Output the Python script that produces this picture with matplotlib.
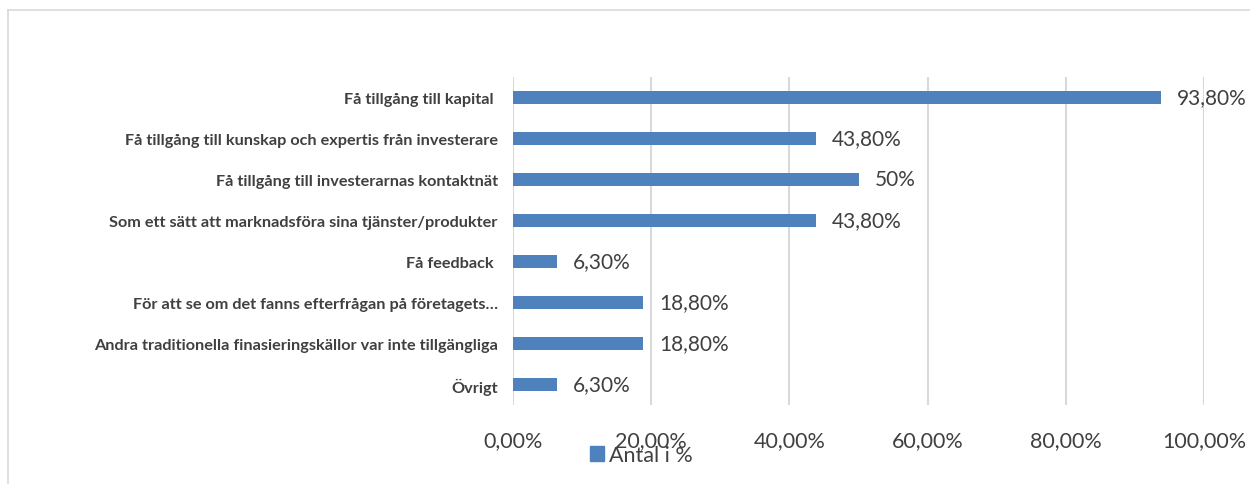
import matplotlib.pyplot as plt
from matplotlib.patches import Patch
from matplotlib.lines import Line2D

categories = [
    "Få tillgång till kapital ",
    "Få tillgång till kunskap och expertis från investerare",
    "Få tillgång till investerarnas kontaktnät",
    "Som ett sätt att marknadsföra sina tjänster/produkter",
    "Få feedback ",
    "För att se om det fanns efterfrågan på företagets…",
    "Andra traditionella finasieringskällor var inte tillgängliga",
    "Övrigt",
]
values = [93.8, 43.8, 50.0, 43.8, 6.3, 18.8, 18.8, 6.3]
value_labels = ["93,80%", "43,80%", "50%", "43,80%", "6,30%", "18,80%", "18,80%", "6,30%"]
ticks = [0, 20, 40, 60, 80, 100]
tick_labels = ["0,00%", "20,00%", "40,00%", "60,00%", "80,00%", "100,00%"]

bar_color = "#4f81bd"
text_color = "#404040"
grid_color = "#d9d9d9"

plt.rcParams['font.family'] = ['Lato', 'DejaVu Sans']

fig = plt.figure(figsize=(12.5, 4.85), dpi=100)
ax = fig.add_axes([513 / 1250, 1 - 406 / 485, 691 / 1250, 328 / 485])

y = list(range(len(categories)))
ax.barh(y, values, height=0.34, color=bar_color, zorder=3)

for yi, v, lab in zip(y, values, value_labels):
    ax.annotate(lab, (v, yi), xytext=(11.5, 0), textcoords="offset points",
                va="center", ha="left", fontsize=15, color=text_color)

ax.set_xlim(0, 100)
ax.set_ylim(len(categories) - 0.5, -0.5)
ax.set_xticks(ticks)
ax.set_xticklabels(tick_labels, fontsize=15.5, color=text_color)
ax.set_yticks(y)
ax.set_yticklabels(categories, fontsize=11.7, fontweight="bold", color=text_color)
ax.tick_params(axis="x", length=0, pad=18)
ax.tick_params(axis="y", length=0, pad=11)
ax.grid(axis="x", color=grid_color, linewidth=1.5, zorder=0)
for s in ax.spines.values():
    s.set_visible(False)

fig.legend([Patch(color=bar_color)], ["Antal i %"], loc="center left",
           bbox_to_anchor=(571 / 1250, 1 - 456 / 485), frameon=False,
           fontsize=15.5, handlelength=0.65, handleheight=0.65, handletextpad=0.2,
           labelcolor=text_color)

# chart frame
fig.add_artist(Line2D([8 / 1250, 1], [1 - 11 / 485, 1 - 11 / 485],
                      transform=fig.transFigure, color=grid_color, linewidth=1.2))
fig.add_artist(Line2D([8 / 1250, 8 / 1250], [0, 1 - 11 / 485],
                      transform=fig.transFigure, color=grid_color, linewidth=1.2))

fig.savefig("out.png", dpi=100)
